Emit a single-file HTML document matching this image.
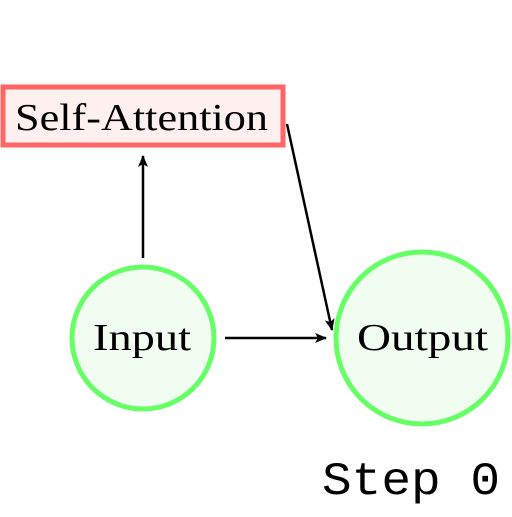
<!DOCTYPE html>
<html><head><style>body{margin:0;background:#fff}</style></head><body>
<svg width="512" height="512" viewBox="0 0 512 512" xmlns="http://www.w3.org/2000/svg">
<defs><marker id="a" markerWidth="12" markerHeight="10" refX="11" refY="5" orient="auto" markerUnits="userSpaceOnUse"><path d="M0,0 L12,5 L0,10 L3,5 Z" fill="#000"/></marker></defs>
<rect x="3" y="87" width="280" height="58" fill="#fff0f0" stroke="#ff6666" stroke-width="5"/>
<text x="15" y="130" font-family="Liberation Serif, serif" font-size="38" textLength="253" lengthAdjust="spacingAndGlyphs">Self-Attention</text>
<circle cx="143" cy="338" r="71" fill="#f2fdf2" stroke="#66ff66" stroke-width="5"/>
<text x="93" y="350" font-family="Liberation Serif, serif" font-size="38" textLength="98" lengthAdjust="spacingAndGlyphs">Input</text>
<circle cx="422" cy="338" r="86" fill="#f2fdf2" stroke="#66ff66" stroke-width="5"/>
<text x="357" y="350" font-family="Liberation Serif, serif" font-size="38" textLength="131" lengthAdjust="spacingAndGlyphs">Output</text>
<line x1="143" y1="258" x2="143" y2="156" stroke="#000" stroke-width="2.5" marker-end="url(#a)"/>
<line x1="225" y1="338" x2="326" y2="338" stroke="#000" stroke-width="2.5" marker-end="url(#a)"/>
<line x1="287" y1="124" x2="332" y2="330" stroke="#000" stroke-width="2.5" marker-end="url(#a)"/>
<text x="322" y="494" font-family="Liberation Mono, monospace" font-size="46" textLength="178" lengthAdjust="spacingAndGlyphs">Step 0</text>
</svg>
</body></html>
